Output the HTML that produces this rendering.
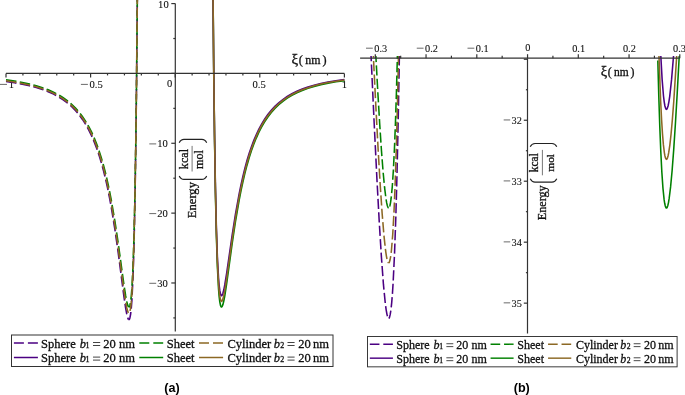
<!DOCTYPE html><html><head><meta charset="utf-8"><style>html,body{margin:0;padding:0;background:#fff}svg{display:block;will-change:transform}text{stroke:#111;stroke-width:0.3px}text.t{stroke-width:0.1px}text.c{stroke:none}</style></head><body>
<svg width="685" height="395" viewBox="0 0 685 395">
<rect width="685" height="395" fill="#fff"/>
<defs><clipPath id="cb"><rect x="355" y="55.9" width="330" height="280"/></clipPath></defs>
<text x="168.7" y="7.9" text-anchor="end" class="t" font-family="Liberation Serif" font-size="10.6" fill="#111">10</text>
<text x="167.9" y="147.4" text-anchor="end" class="t" font-family="Liberation Serif" font-size="10.6" fill="#111">10</text>
<line x1="149.3" y1="143.9" x2="156.2" y2="143.9" stroke="#444" stroke-width="0.8"/>
<text x="167.9" y="217.1" text-anchor="end" class="t" font-family="Liberation Serif" font-size="10.6" fill="#111">20</text>
<line x1="149.3" y1="213.6" x2="156.2" y2="213.6" stroke="#444" stroke-width="0.8"/>
<text x="167.9" y="286.8" text-anchor="end" class="t" font-family="Liberation Serif" font-size="10.6" fill="#111">30</text>
<line x1="149.3" y1="283.3" x2="156.2" y2="283.3" stroke="#444" stroke-width="0.8"/>
<text x="167" y="86.9" class="t" font-family="Liberation Serif" font-size="10.6" fill="#111">0</text>
<text x="344.4" y="87.9" text-anchor="middle" class="t" font-family="Liberation Serif" font-size="10.6" fill="#111">1</text>
<text x="259.2" y="87.9" text-anchor="middle" class="t" font-family="Liberation Serif" font-size="10.6" fill="#111">0.5</text>
<text x="96.2" y="87.9" text-anchor="middle" class="t" font-family="Liberation Serif" font-size="10.6" fill="#111">0.5</text>
<line x1="80.9" y1="84.4" x2="87.9" y2="84.4" stroke="#444" stroke-width="0.8"/>
<text x="11.4" y="87.9" text-anchor="middle" class="t" font-family="Liberation Serif" font-size="10.6" fill="#111">1</text>
<line x1="0" y1="84.4" x2="7" y2="84.4" stroke="#444" stroke-width="0.8"/>
<text x="521.9" y="124.34" text-anchor="end" class="t" font-family="Liberation Serif" font-size="10.3" fill="#111">32</text>
<line x1="503.7" y1="119.94" x2="510.2" y2="119.94" stroke="#444" stroke-width="0.8"/>
<text x="521.9" y="185.31" text-anchor="end" class="t" font-family="Liberation Serif" font-size="10.3" fill="#111">33</text>
<line x1="503.7" y1="180.91" x2="510.2" y2="180.91" stroke="#444" stroke-width="0.8"/>
<text x="521.9" y="246.28" text-anchor="end" class="t" font-family="Liberation Serif" font-size="10.3" fill="#111">34</text>
<line x1="503.7" y1="241.88" x2="510.2" y2="241.88" stroke="#444" stroke-width="0.8"/>
<text x="521.9" y="307.25" text-anchor="end" class="t" font-family="Liberation Serif" font-size="10.3" fill="#111">35</text>
<line x1="503.7" y1="302.85" x2="510.2" y2="302.85" stroke="#444" stroke-width="0.8"/>
<text x="380.80" y="51.6" text-anchor="middle" class="t" font-family="Liberation Serif" font-size="10.3" fill="#111">0.3</text>
<line x1="366.0" y1="48.2" x2="372.8" y2="48.2" stroke="#444" stroke-width="0.8"/>
<text x="431.55" y="51.6" text-anchor="middle" class="t" font-family="Liberation Serif" font-size="10.3" fill="#111">0.2</text>
<line x1="416.75" y1="48.2" x2="423.55" y2="48.2" stroke="#444" stroke-width="0.8"/>
<text x="482.30" y="51.6" text-anchor="middle" class="t" font-family="Liberation Serif" font-size="10.3" fill="#111">0.1</text>
<line x1="467.5" y1="48.2" x2="474.3" y2="48.2" stroke="#444" stroke-width="0.8"/>
<text x="527.9" y="51.4" text-anchor="middle" class="t" font-family="Liberation Serif" font-size="10.3" fill="#111">0</text>
<text x="578.60" y="51.6" text-anchor="middle" class="t" font-family="Liberation Serif" font-size="10.3" fill="#111">0.1</text>
<text x="629.35" y="51.6" text-anchor="middle" class="t" font-family="Liberation Serif" font-size="10.3" fill="#111">0.2</text>
<text x="679.50" y="51.6" text-anchor="middle" class="t" font-family="Liberation Serif" font-size="10.3" fill="#111">0.3</text>
<path d="M6.00 81.56 L14.53 82.79 L22.35 84.18 L29.58 85.75 L36.28 87.52 L42.50 89.50 L48.24 91.70 L53.58 94.13 L58.55 96.82 L63.24 99.81 L67.62 103.10 L71.77 106.74 L75.62 110.68 L79.23 114.97 L82.67 119.68 L85.87 124.73 L88.95 130.31 L91.67 135.92 L94.22 141.85 L96.65 148.19 L99.02 155.13 L101.27 162.50 L103.47 170.50 L105.54 178.91 L107.55 187.94 L109.45 197.30 L111.29 207.21 L114.96 229.73 L118.22 252.68 L123.79 295.30 L125.62 307.81 L126.63 313.40 L127.53 317.18 L128.35 319.22 L128.73 319.61" fill="none" stroke="#4b0082" stroke-width="1.6" stroke-dasharray="10.5 3.45" stroke-dashoffset="0"/>
<path d="M128.73 319.61 L129.09 319.59 L129.48 319.07 L129.86 318.01 L130.58 314.33 L131.24 308.48 L131.86 300.41 L133.00 277.38 L134.02 244.42 L134.96 200.64 L135.81 145.43 L136.59 78.15 L137.32 -2.73" fill="none" stroke="#4b0082" stroke-width="1.6" stroke-dasharray="10.5 3.45" stroke-dashoffset="2.28"/>
<path d="M6.00 79.77 L14.53 81.04 L22.35 82.45 L29.58 84.02 L36.28 85.78 L42.44 87.71 L48.19 89.86 L53.52 92.22 L58.50 94.83 L63.18 97.71 L67.56 100.87 L71.65 104.31 L75.50 108.08 L79.11 112.17 L82.55 116.66 L85.81 121.56 L88.89 126.87 L91.62 132.21 L94.16 137.85 L96.65 144.03 L99.02 150.64 L101.27 157.66 L103.47 165.28 L105.54 173.27 L107.55 181.87 L109.45 190.76 L111.29 200.19 L114.96 221.59 L118.22 243.40 L123.79 283.90 L125.62 295.74 L126.63 301.08 L127.53 304.66 L128.35 306.60 L128.73 306.97" fill="none" stroke="#008000" stroke-width="1.6" stroke-dasharray="10.5 3.45" stroke-dashoffset="0"/>
<path d="M128.73 306.97 L129.10 306.94 L129.49 306.45 L129.87 305.44 L130.59 301.89 L131.25 296.30 L131.88 288.53 L133.02 266.38 L134.04 234.84 L134.98 192.69 L135.83 139.82 L136.62 74.90 L137.35 -2.65" fill="none" stroke="#008000" stroke-width="1.6" stroke-dasharray="10.5 3.45" stroke-dashoffset="6.05"/>
<path d="M6.00 80.81 L14.53 82.04 L22.35 83.43 L29.58 85.00 L36.28 86.75 L42.50 88.71 L48.24 90.88 L53.58 93.27 L58.55 95.92 L63.24 98.85 L67.62 102.07 L71.77 105.64 L75.62 109.49 L79.23 113.69 L82.67 118.30 L85.87 123.23 L88.95 128.68 L91.67 134.16 L94.22 139.94 L96.65 146.13 L99.02 152.90 L101.27 160.10 L103.47 167.90 L105.54 176.10 L107.55 184.91 L109.45 194.03 L111.29 203.70 L114.96 225.65 L118.22 248.02 L123.79 289.57 L125.62 301.76 L126.63 307.21 L127.53 310.88 L128.35 312.88 L128.73 313.26" fill="none" stroke="#8c6824" stroke-width="1.6" stroke-dasharray="10.5 3.45" stroke-dashoffset="0"/>
<path d="M128.73 313.26 L129.09 313.23 L129.48 312.73 L129.86 311.70 L130.58 308.11 L131.24 302.41 L131.87 294.48 L133.01 271.84 L134.03 239.59 L134.97 196.49 L135.82 142.40 L136.61 76.49 L137.34 -2.73" fill="none" stroke="#8c6824" stroke-width="1.6" stroke-dasharray="10.5 3.45" stroke-dashoffset="11.02"/>
<path d="M213.05 -2.65 L213.78 74.90 L214.57 139.82 L215.42 192.69 L216.36 234.84 L217.38 266.38 L218.52 288.53 L219.15 296.30 L219.81 301.89 L220.53 305.44 L220.91 306.45 L221.30 306.94 L221.67 306.97 L222.05 306.60 L222.87 304.66 L223.77 301.08 L224.78 295.77 L226.61 283.91 L232.18 243.45 L235.44 221.66 L239.11 200.28 L240.95 190.87 L242.85 181.99 L244.86 173.41 L246.93 165.42 L249.13 157.82 L251.38 150.82 L253.75 144.23 L256.24 138.06 L258.78 132.45 L261.51 127.12 L264.59 121.83 L267.85 116.96 L271.29 112.49 L274.90 108.42 L278.75 104.69 L282.84 101.27 L287.22 98.14 L291.90 95.29 L296.88 92.72 L302.21 90.40 L307.96 88.29 L314.12 86.40 L320.82 84.70 L328.05 83.17 L335.87 81.82 L344.40 80.61" fill="none" stroke="#008000" stroke-width="1.6"/>
<path d="M213.02 -2.65 L213.75 71.94 L214.53 134.40 L215.39 185.55 L216.33 226.06 L217.36 256.52 L218.50 277.88 L219.13 285.34 L219.80 290.72 L220.51 294.15 L220.90 295.13 L221.29 295.62 L221.66 295.66 L222.04 295.32 L222.86 293.47 L223.77 290.05 L224.78 284.97 L226.61 273.71 L232.18 235.17 L235.44 214.42 L239.11 194.05 L240.95 185.08 L242.85 176.62 L244.86 168.44 L246.93 160.83 L249.13 153.58 L251.38 146.91 L253.75 140.62 L256.24 134.73 L258.78 129.37 L261.51 124.29 L264.59 119.24 L267.85 114.58 L271.29 110.31 L274.90 106.41 L278.75 102.83 L282.84 99.56 L287.22 96.55 L291.90 93.81 L296.88 91.33 L302.21 89.08 L307.96 87.04 L314.12 85.20 L320.82 83.53 L328.05 82.04 L335.87 80.70 L344.40 79.50" fill="none" stroke="#4b0082" stroke-width="1.6"/>
<path d="M213.03 -2.72 L213.76 73.39 L214.55 137.10 L215.40 189.00 L216.34 230.38 L217.36 261.37 L218.51 283.23 L219.14 290.86 L219.80 296.35 L220.52 299.85 L220.90 300.85 L221.30 301.35 L221.67 301.39 L222.05 301.03 L222.86 299.15 L223.76 295.66 L224.78 290.45 L226.55 279.27 L232.18 239.36 L235.44 218.08 L239.11 197.20 L240.95 188.01 L242.85 179.33 L244.86 170.95 L246.93 163.15 L249.13 155.72 L251.38 148.88 L253.75 142.44 L256.24 136.41 L258.78 130.92 L261.51 125.71 L264.59 120.54 L267.85 115.77 L271.29 111.40 L274.90 107.41 L278.75 103.75 L282.84 100.41 L287.22 97.33 L291.90 94.54 L296.88 92.01 L302.21 89.72 L307.96 87.65 L314.12 85.78 L320.82 84.09 L328.05 82.58 L335.87 81.23 L344.40 80.02" fill="none" stroke="#8c6824" stroke-width="1.6"/>
<path d="M371.05 55.90 L374.22 124.30 L376.89 178.40 L379.27 222.35 L381.42 257.15 L383.42 284.20 L385.28 303.26 L386.16 309.87 L387.02 314.62 L387.85 317.45 L388.25 318.16 L388.65 318.39" fill="none" stroke="#4b0082" stroke-width="1.55" stroke-dasharray="10.2 3.25" stroke-dashoffset="4.8" clip-path="url(#cb)"/>
<path d="M388.65 318.39 L389.05 318.14 L389.45 317.40 L390.23 314.41 L390.99 309.43 L391.73 302.39 L392.45 293.33 L393.15 282.30 L394.51 254.11 L395.81 217.53 L397.05 172.27 L398.24 118.60 L399.39 55.90" fill="none" stroke="#4b0082" stroke-width="1.55" stroke-dasharray="10.2 3.25" stroke-dashoffset="1.9" clip-path="url(#cb)"/>
<path d="M373.35 55.90 L375.93 108.01 L378.20 150.72 L380.26 185.68 L382.16 213.72 L383.94 235.42 L385.60 250.72 L386.40 256.05 L387.17 259.87 L387.92 262.15 L388.28 262.72 L388.65 262.91" fill="none" stroke="#8c6824" stroke-width="1.55" stroke-dasharray="10.2 3.25" stroke-dashoffset="8.3" clip-path="url(#cb)"/>
<path d="M388.65 262.91 L389.01 262.71 L389.37 262.12 L390.07 259.77 L390.77 255.81 L391.44 250.27 L392.74 234.37 L393.99 212.00 L395.18 183.06 L396.32 147.56 L397.43 105.10 L398.49 55.90" fill="none" stroke="#8c6824" stroke-width="1.55" stroke-dasharray="10.2 3.25" stroke-dashoffset="2.9" clip-path="url(#cb)"/>
<path d="M375.86 55.90 L377.88 93.18 L379.74 124.48 L381.45 150.44 L383.05 171.29 L384.57 187.45 L386.00 198.92 L386.69 202.93 L387.36 205.76 L388.01 207.47 L388.33 207.89 L388.65 208.04" fill="none" stroke="#008000" stroke-width="1.55" stroke-dasharray="10.2 3.25" stroke-dashoffset="4.0" clip-path="url(#cb)"/>
<path d="M388.65 208.04 L388.97 207.89 L389.28 207.46 L389.90 205.70 L390.50 202.80 L391.09 198.71 L392.25 186.96 L393.35 170.50 L394.41 149.31 L395.44 123.14 L396.43 91.94 L397.39 55.90" fill="none" stroke="#008000" stroke-width="1.55" stroke-dasharray="10.2 3.25" stroke-dashoffset="11.45" clip-path="url(#cb)"/>
<path d="M657.82 60.60 L658.78 95.90 L659.77 126.10 L660.79 151.55 L661.85 172.21 L662.95 188.11 L664.09 199.39 L664.68 203.28 L665.29 206.02 L665.91 207.60 L666.22 207.96 L666.53 208.03 L666.85 207.82 L667.17 207.32 L667.82 205.49 L668.49 202.55 L669.17 198.45 L670.59 186.90 L672.10 170.70 L673.69 149.86 L675.39 124.06 L677.23 92.98 L679.24 55.90" fill="none" stroke="#008000" stroke-width="1.55" clip-path="url(#cb)"/>
<path d="M658.97 55.90 L660.67 101.46 L661.56 119.22 L662.47 133.67 L663.41 144.89 L664.39 152.87 L664.89 155.66 L665.40 157.66 L665.92 158.86 L666.19 159.16 L666.45 159.26 L666.99 158.87 L667.53 157.70 L668.09 155.73 L668.66 152.96 L669.84 145.09 L671.07 133.98 L672.36 119.66 L673.72 101.97 L676.70 55.90" fill="none" stroke="#8c6824" stroke-width="1.55" clip-path="url(#cb)"/>
<path d="M660.81 55.90 L662.12 79.36 L663.49 96.00 L664.21 101.82 L664.93 105.96 L665.68 108.44 L666.06 109.06 L666.45 109.27 L666.84 109.06 L667.24 108.44 L668.06 105.97 L668.89 101.85 L669.76 96.05 L671.58 79.42 L673.54 55.90" fill="none" stroke="#4b0082" stroke-width="1.55" clip-path="url(#cb)"/>
<g stroke="#333" stroke-width="1.2" fill="none">
<line x1="6.00" y1="73.4" x2="344.40" y2="73.4"/>
<line x1="175.3" y1="3.4" x2="175.3" y2="331.6"/>
<line x1="6.00" y1="73.4" x2="6.00" y2="77.4"/>
<line x1="22.92" y1="73.4" x2="22.92" y2="75.4"/>
<line x1="39.84" y1="73.4" x2="39.84" y2="75.4"/>
<line x1="56.76" y1="73.4" x2="56.76" y2="75.4"/>
<line x1="73.68" y1="73.4" x2="73.68" y2="75.4"/>
<line x1="90.60" y1="73.4" x2="90.60" y2="77.4"/>
<line x1="107.52" y1="73.4" x2="107.52" y2="75.4"/>
<line x1="124.44" y1="73.4" x2="124.44" y2="75.4"/>
<line x1="141.36" y1="73.4" x2="141.36" y2="75.4"/>
<line x1="158.28" y1="73.4" x2="158.28" y2="75.4"/>
<line x1="175.20" y1="73.4" x2="175.20" y2="77.4"/>
<line x1="192.12" y1="73.4" x2="192.12" y2="75.4"/>
<line x1="209.04" y1="73.4" x2="209.04" y2="75.4"/>
<line x1="225.96" y1="73.4" x2="225.96" y2="75.4"/>
<line x1="242.88" y1="73.4" x2="242.88" y2="75.4"/>
<line x1="259.80" y1="73.4" x2="259.80" y2="77.4"/>
<line x1="276.72" y1="73.4" x2="276.72" y2="75.4"/>
<line x1="293.64" y1="73.4" x2="293.64" y2="75.4"/>
<line x1="310.56" y1="73.4" x2="310.56" y2="75.4"/>
<line x1="327.48" y1="73.4" x2="327.48" y2="75.4"/>
<line x1="344.40" y1="73.4" x2="344.40" y2="77.4"/>
<line x1="175.3" y1="317.91" x2="173.3" y2="317.91"/>
<line x1="175.3" y1="282.98" x2="171.3" y2="282.98"/>
<line x1="175.3" y1="248.06" x2="173.3" y2="248.06"/>
<line x1="175.3" y1="213.13" x2="171.3" y2="213.13"/>
<line x1="175.3" y1="178.21" x2="173.3" y2="178.21"/>
<line x1="175.3" y1="143.28" x2="171.3" y2="143.28"/>
<line x1="175.3" y1="108.36" x2="173.3" y2="108.36"/>
<line x1="175.3" y1="73.43" x2="171.3" y2="73.43"/>
<line x1="175.3" y1="38.51" x2="173.3" y2="38.51"/>
<line x1="175.3" y1="3.58" x2="171.3" y2="3.58"/>
</g>
<g stroke="#333" stroke-width="1.2" fill="none">
<line x1="360.1" y1="58.2" x2="679.80" y2="58.2"/>
<line x1="527.5" y1="58.2" x2="527.5" y2="333.5"/>
<line x1="375.30" y1="58.2" x2="375.30" y2="54.2"/>
<line x1="400.67" y1="58.2" x2="400.67" y2="55.7"/>
<line x1="426.05" y1="58.2" x2="426.05" y2="54.2"/>
<line x1="451.42" y1="58.2" x2="451.42" y2="55.7"/>
<line x1="476.80" y1="58.2" x2="476.80" y2="54.2"/>
<line x1="502.17" y1="58.2" x2="502.17" y2="55.7"/>
<line x1="527.55" y1="58.2" x2="527.55" y2="54.2"/>
<line x1="552.92" y1="58.2" x2="552.92" y2="55.7"/>
<line x1="578.30" y1="58.2" x2="578.30" y2="54.2"/>
<line x1="603.67" y1="58.2" x2="603.67" y2="55.7"/>
<line x1="629.05" y1="58.2" x2="629.05" y2="54.2"/>
<line x1="654.42" y1="58.2" x2="654.42" y2="55.7"/>
<line x1="679.80" y1="58.2" x2="679.80" y2="54.2"/>
<line x1="527.5" y1="59.27" x2="523.8" y2="59.27"/>
<line x1="527.5" y1="89.76" x2="525.9" y2="89.76"/>
<line x1="527.5" y1="120.24" x2="523.8" y2="120.24"/>
<line x1="527.5" y1="150.72" x2="525.9" y2="150.72"/>
<line x1="527.5" y1="181.21" x2="523.8" y2="181.21"/>
<line x1="527.5" y1="211.69" x2="525.9" y2="211.69"/>
<line x1="527.5" y1="242.18" x2="523.8" y2="242.18"/>
<line x1="527.5" y1="272.67" x2="525.9" y2="272.67"/>
<line x1="527.5" y1="303.15" x2="523.8" y2="303.15"/>
</g>
<g transform="translate(291.5,64.1) scale(1.0)"><text x="0" y="0" font-family="Liberation Serif" font-size="12.3" fill="#111"><tspan font-size="15" dx="0">ξ</tspan><tspan dx="0.5">(</tspan><tspan dx="2.4" font-size="11.9">nm</tspan><tspan dx="2.0">)</tspan></text></g>
<g transform="translate(600.8,76.3) scale(0.965)"><text x="0" y="0" font-family="Liberation Serif" font-size="12.3" fill="#111"><tspan font-size="15" dx="0">ξ</tspan><tspan dx="0.5">(</tspan><tspan dx="2.4" font-size="11.9">nm</tspan><tspan dx="2.0">)</tspan></text></g>
<g transform="translate(195.70,218.20) rotate(-90)"><text x="0" y="0" font-family="Liberation Serif" font-size="12.6" fill="#111">Energy</text></g>
<g transform="translate(187.70,169.20) rotate(-90)"><text x="0" y="0" font-family="Liberation Serif" font-size="12.2" fill="#111">kcal</text></g>
<g transform="translate(203.20,169.00) rotate(-90)"><text x="0" y="0" font-family="Liberation Serif" font-size="12.2" fill="#111">mol</text></g>
<line x1="192.1" y1="145.9" x2="192.1" y2="171.5" stroke="#666" stroke-width="0.9"/>
<path d="M179.2 142.8 Q180.79999999999998 139.4 184.0 139.4 L201.89999999999998 139.4 Q205.1 139.4 206.7 142.8" fill="none" stroke="#222" stroke-width="1.1"/>
<path d="M179.2 176.0 Q180.79999999999998 179.4 184.0 179.4 L201.89999999999998 179.4 Q205.1 179.4 206.7 176.0" fill="none" stroke="#222" stroke-width="1.1"/>
<g transform="translate(546.30,220.20) rotate(-90)"><text x="0" y="0" font-family="Liberation Serif" font-size="12.13" fill="#111">Energy</text></g>
<g transform="translate(538.40,172.30) rotate(-90)"><text x="0" y="0" font-family="Liberation Serif" font-size="11.5" fill="#111">kcal</text></g>
<g transform="translate(554.00,171.70) rotate(-90)"><text x="0" y="0" font-family="Liberation Serif" font-size="11.4" fill="#111">mol</text></g>
<line x1="542.4" y1="149.9" x2="542.4" y2="175.3" stroke="#666" stroke-width="0.9"/>
<path d="M530.2 146.8 Q531.8000000000001 143.5 535.0 143.5 L552.0 143.5 Q555.1999999999999 143.5 556.8 146.8" fill="none" stroke="#222" stroke-width="1.1"/>
<path d="M530.2 178.79999999999998 Q531.8000000000001 182.1 535.0 182.1 L552.0 182.1 Q555.1999999999999 182.1 556.8 178.79999999999998" fill="none" stroke="#222" stroke-width="1.1"/>
<g transform="translate(0.000,0.000) scale(1.0)">
<rect x="11.5" y="335" width="321.5" height="31.5" fill="none" stroke="#333" stroke-width="1"/>
<line x1="13.9" y1="343.0" x2="37.9" y2="343.0" stroke="#4b0082" stroke-width="1.5" stroke-dasharray="10 4"/>
<line x1="139.3" y1="343.0" x2="163.20000000000002" y2="343.0" stroke="#008000" stroke-width="1.5" stroke-dasharray="10 4"/>
<line x1="199.0" y1="343.0" x2="223.10000000000002" y2="343.0" stroke="#8c6824" stroke-width="1.5" stroke-dasharray="10 4"/>
<g transform="translate(0.0,0)">
<text y="347.7" font-family="Liberation Serif" font-size="12.5" fill="#111"><tspan x="41">Sphere</tspan><tspan x="79.7" font-style="italic">b</tspan><tspan x="85.5" font-size="8">1</tspan><tspan x="103.2">20</tspan><tspan x="119.0">nm</tspan></text>
<text y="347.7" font-family="Liberation Serif" font-size="12.5" fill="#111"><tspan x="166.7">Sheet</tspan></text>
<text y="347.7" font-family="Liberation Serif" font-size="12.5" fill="#111"><tspan x="227.5">Cylinder</tspan><tspan x="273.7" font-style="italic">b</tspan><tspan x="280.3" font-size="8">2</tspan><tspan x="298.2">20</tspan><tspan x="313.0">nm</tspan></text>
<path d="M93.0 342.50H100.2M93.0 345.50H100.2" stroke="#222" stroke-width="0.85"/>
<path d="M287.5 342.50H294.6M287.5 345.50H294.6" stroke="#222" stroke-width="0.85"/>
</g>
<line x1="13.9" y1="357.5" x2="37.9" y2="357.5" stroke="#4b0082" stroke-width="1.5"/>
<line x1="139.3" y1="357.5" x2="163.20000000000002" y2="357.5" stroke="#008000" stroke-width="1.5"/>
<line x1="199.0" y1="357.5" x2="223.10000000000002" y2="357.5" stroke="#8c6824" stroke-width="1.5"/>
<g transform="translate(0.0,0)">
<text y="362.3" font-family="Liberation Serif" font-size="12.5" fill="#111"><tspan x="41">Sphere</tspan><tspan x="79.7" font-style="italic">b</tspan><tspan x="85.5" font-size="8">1</tspan><tspan x="103.2">20</tspan><tspan x="119.0">nm</tspan></text>
<text y="362.3" font-family="Liberation Serif" font-size="12.5" fill="#111"><tspan x="166.7">Sheet</tspan></text>
<text y="362.3" font-family="Liberation Serif" font-size="12.5" fill="#111"><tspan x="227.5">Cylinder</tspan><tspan x="273.7" font-style="italic">b</tspan><tspan x="280.3" font-size="8">2</tspan><tspan x="298.2">20</tspan><tspan x="313.0">nm</tspan></text>
<path d="M93.0 357.10H100.2M93.0 360.10H100.2" stroke="#222" stroke-width="0.85"/>
<path d="M287.5 357.10H294.6M287.5 360.10H294.6" stroke="#222" stroke-width="0.85"/>
</g>
</g>
<g transform="translate(356.425,13.895) scale(0.963)">
<rect x="11.5" y="335" width="321.5" height="31.5" fill="none" stroke="#333" stroke-width="1"/>
<line x1="13.9" y1="343.0" x2="37.9" y2="343.0" stroke="#4b0082" stroke-width="1.5" stroke-dasharray="10 4"/>
<line x1="139.3" y1="343.0" x2="163.20000000000002" y2="343.0" stroke="#008000" stroke-width="1.5" stroke-dasharray="10 4"/>
<line x1="199.0" y1="343.0" x2="223.10000000000002" y2="343.0" stroke="#8c6824" stroke-width="1.5" stroke-dasharray="10 4"/>
<g transform="translate(0.4,0)">
<text y="347.7" font-family="Liberation Serif" font-size="12.5" fill="#111"><tspan x="41">Sphere</tspan><tspan x="79.7" font-style="italic">b</tspan><tspan x="85.5" font-size="8">1</tspan><tspan x="103.2">20</tspan><tspan x="119.0">nm</tspan></text>
<text y="347.7" font-family="Liberation Serif" font-size="12.5" fill="#111"><tspan x="166.7">Sheet</tspan></text>
<text y="347.7" font-family="Liberation Serif" font-size="12.5" fill="#111"><tspan x="227.5">Cylinder</tspan><tspan x="273.7" font-style="italic">b</tspan><tspan x="280.3" font-size="8">2</tspan><tspan x="298.2">20</tspan><tspan x="313.0">nm</tspan></text>
<path d="M93.0 342.50H100.2M93.0 345.50H100.2" stroke="#222" stroke-width="0.85"/>
<path d="M287.5 342.50H294.6M287.5 345.50H294.6" stroke="#222" stroke-width="0.85"/>
</g>
<line x1="13.9" y1="357.5" x2="37.9" y2="357.5" stroke="#4b0082" stroke-width="1.5"/>
<line x1="139.3" y1="357.5" x2="163.20000000000002" y2="357.5" stroke="#008000" stroke-width="1.5"/>
<line x1="199.0" y1="357.5" x2="223.10000000000002" y2="357.5" stroke="#8c6824" stroke-width="1.5"/>
<g transform="translate(0.4,0)">
<text y="362.3" font-family="Liberation Serif" font-size="12.5" fill="#111"><tspan x="41">Sphere</tspan><tspan x="79.7" font-style="italic">b</tspan><tspan x="85.5" font-size="8">1</tspan><tspan x="103.2">20</tspan><tspan x="119.0">nm</tspan></text>
<text y="362.3" font-family="Liberation Serif" font-size="12.5" fill="#111"><tspan x="166.7">Sheet</tspan></text>
<text y="362.3" font-family="Liberation Serif" font-size="12.5" fill="#111"><tspan x="227.5">Cylinder</tspan><tspan x="273.7" font-style="italic">b</tspan><tspan x="280.3" font-size="8">2</tspan><tspan x="298.2">20</tspan><tspan x="313.0">nm</tspan></text>
<path d="M93.0 357.10H100.2M93.0 360.10H100.2" stroke="#222" stroke-width="0.85"/>
<path d="M287.5 357.10H294.6M287.5 360.10H294.6" stroke="#222" stroke-width="0.85"/>
</g>
</g>
<text class="c" x="164.3" y="391.8" font-family="Liberation Sans" font-weight="bold" font-size="12.6" fill="#000">(a)</text>
<text class="c" x="513.7" y="391.8" font-family="Liberation Sans" font-weight="bold" font-size="12.6" fill="#000">(b)</text>
</svg></body></html>
